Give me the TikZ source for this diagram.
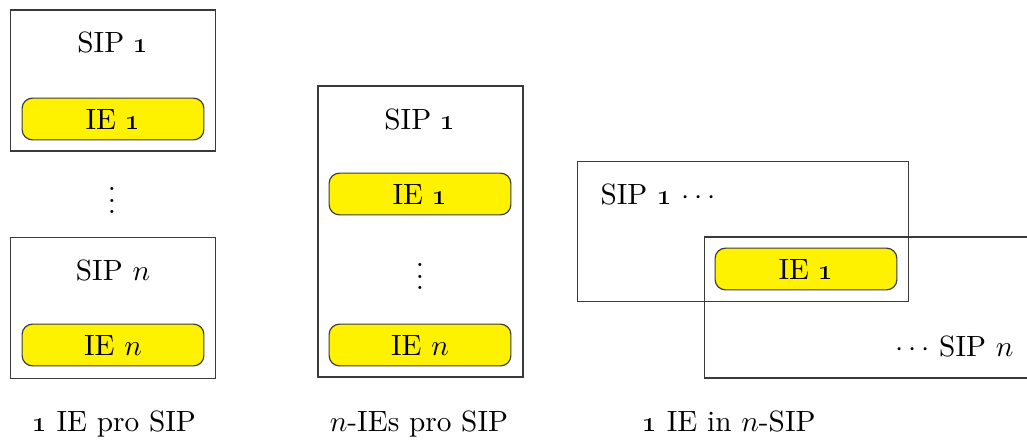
\documentclass[tikz,border=0pt]{standalone}
\usepackage{tikz}
\usepackage{xcolor}
\usetikzlibrary{positioning}
\definecolor{ieyellow}{HTML}{FFF200}
\definecolor{frame}{HTML}{3A3A3A}

\begin{document}
\begin{tikzpicture}[x=0.012cm,y=-0.012cm,
    sipbox/.style={draw=frame,line width=.4pt,inner sep=0pt},
    iebox/.style={draw=frame,line width=.4pt,rounded corners=3.5pt,fill=ieyellow,minimum width=2.18cm,minimum height=.5cm}]
    \useasboundingbox (0,0) rectangle (1027,442);
    % one IE per SIP
    \node[sipbox,minimum width=2.45cm,minimum height=1.69cm] (s1) at (113,80.5) {};
    \node[sipbox,minimum width=2.45cm,minimum height=1.70cm] (sn) at (113,308) {};
    \node[anchor=base] (s1t) at (113,53) {SIP \oldstylenums{1}};
    \node[iebox] (i1) at (113,119) {IE \oldstylenums{1}};
    \node[anchor=base,inner sep=0pt] (ldots) at (112,214) {$\vdots$};
    \node[anchor=base] (snt) at (113,281) {SIP $n$};
    \node[iebox] (in) at (113,345) {IE $n$};
    \node[anchor=base] (c1) at (114,432) {\oldstylenums{1} IE pro SIP};
    % n IEs in one SIP
    \node[sipbox,minimum width=2.46cm,minimum height=3.49cm] (m) at (420.5,231.5) {};
    \node[anchor=base] (mt) at (420,130) {SIP \oldstylenums{1}};
    \node[iebox] (mi1) at (420,194) {IE \oldstylenums{1}};
    \node[anchor=base,inner sep=0pt] (mdots) at (420,290) {$\vdots$};
    \node[iebox] (min) at (420,345) {IE $n$};
    \node[anchor=base] (c2) at (419,432) {$n$-IEs pro SIP};
    % one IE shared by n SIPs
    \node[sipbox,minimum width=3.96cm,minimum height=1.68cm] (ra) at (743,231.5) {};
    \node[sipbox,minimum width=4.08cm,minimum height=1.69cm] (rb) at (875,307.5) {};
    \node[anchor=base west,inner sep=0pt] (rat) at (600,205) {SIP \oldstylenums{1} $\cdots$};
    \node[anchor=base east,inner sep=0pt] (rbt) at (1014,357) {$\cdots$ SIP $n$};
    \node[iebox] (ri) at (806,269) {IE \oldstylenums{1}};
    \node[anchor=base] (c3) at (729,432) {\oldstylenums{1} IE in $n$-SIP};
\end{tikzpicture}
\end{document}
